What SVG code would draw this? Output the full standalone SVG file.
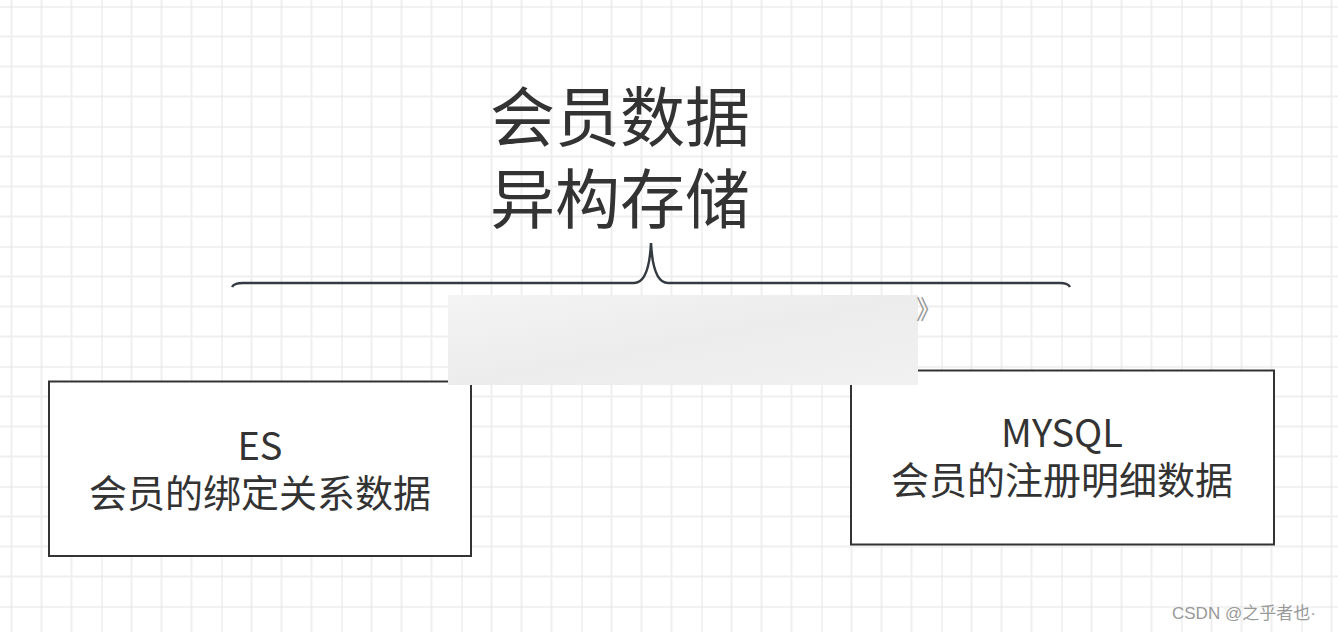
<svg xmlns="http://www.w3.org/2000/svg" width="1338" height="632" viewBox="0 0 1338 632">
<style>
.t{font-family:"Noto Sans CJK SC","Noto Sans",sans-serif;fill:#333;}
.box{fill:#fff;stroke:#333;stroke-width:2;}
</style>
<defs>
<pattern id="grid" patternUnits="userSpaceOnUse" x="101.5" y="6.5" width="120" height="120">
<path d="M30,0V120M60,0V120M90,0V120M0,30H120M0,60H120M0,90H120" stroke="#efefef" stroke-width="2" fill="none"/>
<path d="M0,0V120M0,0H120" stroke="#e5e5e5" stroke-width="2" fill="none"/>
</pattern>
<linearGradient id="blur" x1="0" y1="0" x2="1" y2="1">
<stop offset="0" stop-color="#f4f4f4"/>
<stop offset="0.5" stop-color="#ececec"/>
<stop offset="1" stop-color="#f1f1f1"/>
</linearGradient>
</defs>
<rect width="1338" height="632" fill="#fff"/>
<rect width="1338" height="632" fill="url(#grid)"/>
<g id="title">
<text class="t" font-size="65" text-anchor="middle"><tspan x="620" y="141">会员数据</tspan><tspan x="620" y="223">异构存储</tspan></text>
</g>
<g id="connectors">
<path d="M232,287 Q234,283 243,283 L634,283 Q649,283 651,243 Q653,283 668,283 L1060,283 Q1068,283 1070,287" fill="none" stroke="#333a41" stroke-width="2.5"/>
</g>
<g id="es">
<rect class="box" x="49" y="381.5" width="422" height="174.5"/>
<text class="t" font-size="38" text-anchor="middle"><tspan x="260" y="460">ES</tspan><tspan x="260" y="507">会员的绑定关系数据</tspan></text>
</g>
<g id="mysql">
<rect class="box" x="851" y="370.5" width="423" height="174"/>
<text class="t" font-size="38" text-anchor="middle"><tspan x="1062" y="447">MYSQL</tspan><tspan x="1062" y="494">会员的注册明细数据</tspan></text>
</g>
<rect x="448" y="295" width="470" height="90" fill="url(#blur)"/>
<text class="t" x="916" y="319" font-size="26" style="fill:#999">》</text>
<text x="1172" y="619" font-size="17" style="fill:#999;font-family:'Liberation Sans','Noto Sans CJK SC',sans-serif">CSDN @之乎者也·</text>
</svg>
